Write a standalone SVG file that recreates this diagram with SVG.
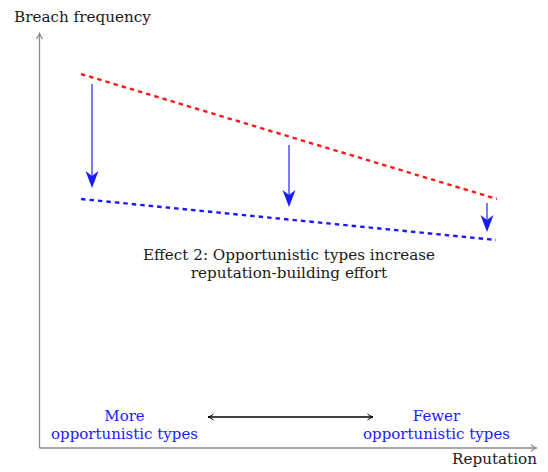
<svg xmlns="http://www.w3.org/2000/svg" width="548" height="472" viewBox="0 0 548 472">
<defs>
<style>
.axis{stroke:#8c8c8c;stroke-width:1.3;fill:none}
.txt{font-family:"DejaVu Serif",serif;font-size:15.2px;fill:#1a1a1a}
.btxt{font-family:"DejaVu Serif",serif;font-size:15px;fill:#1a1aff}
.red{stroke:#ff1a1a;stroke-width:2.4;stroke-dasharray:4.5 4;fill:none}
.blue{stroke:#1a1aff;stroke-width:2.4;stroke-dasharray:4.5 4;fill:none}
.barr{stroke:#3333ff;stroke-width:1.3;fill:none}
.bhead{fill:#1a1aff;stroke:none}
</style>
<marker id="ah" markerWidth="8" markerHeight="8" refX="6" refY="4" orient="auto-start-reverse" markerUnits="userSpaceOnUse">
<path d="M0.5,1 Q3,3.2 6,4 Q3,4.8 0.5,7" fill="none" stroke="#000" stroke-width="1"/>
</marker>
</defs>
<g id="axes">
<path class="axis" d="M39.5,448 V34 M39.5,448 H536"/>
<path class="axis" d="M36.5,39 Q38.5,36 39.5,33.5 Q40.5,36 42.5,39"/>
<path class="axis" d="M531,445 Q534,447 536.5,448 Q534,449 531,451"/>
</g>
<g id="y-label"><text class="txt" x="14" y="22">Breach frequency</text></g>
<g id="x-label"><text class="txt" x="537" y="464" text-anchor="end">Reputation</text></g>
<g id="red-line"><line class="red" x1="81" y1="74" x2="497" y2="199"/></g>
<g id="blue-line"><line class="blue" x1="81" y1="199" x2="496" y2="240"/></g>
<g id="connectors">
<line class="barr" x1="92" y1="84" x2="92" y2="180"/>
<path class="bhead" d="M92,188 L85.5,171 L92,176 L98.5,171 Z"/>
<line class="barr" x1="289" y1="145" x2="289" y2="199"/>
<path class="bhead" d="M289,207 L282.5,190 L289,195 L295.5,190 Z"/>
<line class="barr" x1="487" y1="203" x2="487" y2="224"/>
<path class="bhead" d="M487,232 L480.5,215 L487,220 L493.5,215 Z"/>
<line x1="208" y1="417" x2="373" y2="417" stroke="#000" stroke-width="1.3" marker-start="url(#ah)" marker-end="url(#ah)"/>
</g>
<g id="effect-label">
<text class="txt" x="289" y="259.5" text-anchor="middle">Effect 2: Opportunistic types increase</text>
<text class="txt" x="289" y="277.5" text-anchor="middle">reputation-building effort</text>
</g>
<g id="more-label">
<text class="btxt" x="124.5" y="420.5" text-anchor="middle">More</text>
<text class="btxt" x="124.5" y="438.5" text-anchor="middle">opportunistic types</text>
</g>
<g id="fewer-label">
<text class="btxt" x="436.5" y="420.5" text-anchor="middle">Fewer</text>
<text class="btxt" x="436.5" y="438.5" text-anchor="middle">opportunistic types</text>
</g>
</svg>
